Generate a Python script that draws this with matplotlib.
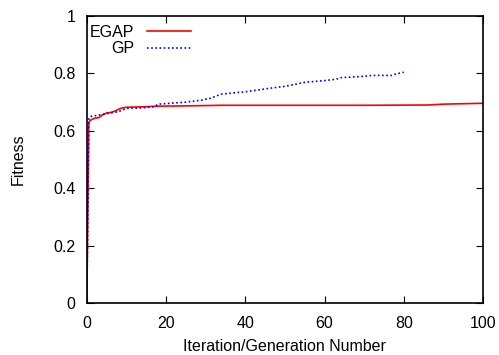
import matplotlib
matplotlib.use("Agg")
import matplotlib.pyplot as plt

plt.rcParams['font.family'] = ['Liberation Sans', 'DejaVu Sans']

# EGAP fitness per iteration
egap_x = [0, 0.5, 1, 2, 3, 4, 5, 6, 7, 8, 9, 10, 12, 15, 18, 25, 34, 50, 70, 86, 90, 100]
egap_y = [0, 0.63, 0.638, 0.644, 0.646, 0.656, 0.662, 0.664, 0.668, 0.675, 0.68, 0.682,
          0.683, 0.684, 0.686, 0.687, 0.689, 0.689, 0.689, 0.690, 0.693, 0.696]

# GP fitness per generation
gp_x = [0, 0.5, 1, 3, 5, 8, 10, 14, 17, 18, 25, 29, 31, 34, 40, 46, 50, 55, 60, 63, 64, 70, 72, 77, 78, 80]
gp_y = [0, 0.645, 0.65, 0.655, 0.66, 0.667, 0.678, 0.68, 0.684, 0.693, 0.7, 0.707, 0.713,
        0.728, 0.736, 0.748, 0.755, 0.769, 0.775, 0.78, 0.785, 0.79, 0.793, 0.793, 0.798, 0.804]

xticks = [0, 20, 40, 60, 80, 100]
yticks = [0, 0.2, 0.4, 0.6, 0.8, 1]
ytick_labels = ['0', '0.2', '0.4', '0.6', '0.8', '1']

fig = plt.figure(figsize=(4.99, 3.55), dpi=100)
ax = fig.add_axes([0.174, 0.146, 0.794, 0.809])

ax.plot(egap_x, egap_y, color='#ff0000', lw=1.2, label='EGAP')
ax.plot(gp_x, gp_y, color='#0000ff', lw=1.2, ls=(0, (1, 1.5)), label='GP')

ax.set_xlim(0, 100)
ax.set_ylim(0, 1)
ax.set_xticks(xticks)
ax.set_yticks(yticks)
ax.set_yticklabels(ytick_labels)
ax.tick_params(direction='in', length=5, width=0.8, top=True, right=True,
               labelsize=11.5, colors='black')
ax.tick_params(axis='x', pad=9)
ax.tick_params(axis='y', pad=8)
for s in ax.spines.values():
    s.set_linewidth(1.2)

ax.set_xlabel('Iteration/Generation Number', fontsize=11.5, labelpad=6)
ax.set_ylabel('Fitness', fontsize=11.5, labelpad=20)

leg = ax.legend(loc='upper left', bbox_to_anchor=(0.003, 0.975), markerfirst=False,
                frameon=False, fontsize=11.5, handlelength=2.8, borderaxespad=0.0,
                borderpad=0.1, labelspacing=0.1, handletextpad=0.8)
for t in leg.get_texts():
    t.set_ha('right')
leg._legend_box.align = 'right'

fig.savefig('out.png', dpi=100)
